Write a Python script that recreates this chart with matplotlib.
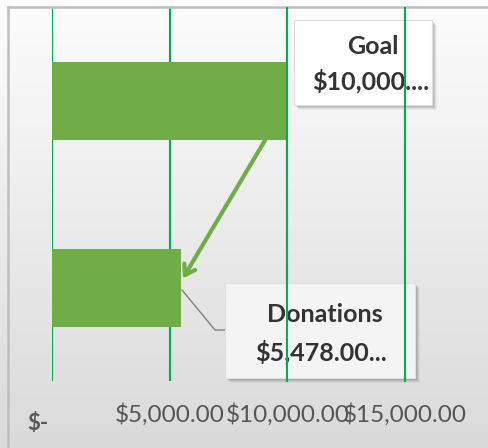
import numpy as np
import matplotlib
matplotlib.use('Agg')
import matplotlib.pyplot as plt
import matplotlib.transforms as mtransforms
from matplotlib.patches import Rectangle
from matplotlib.lines import Line2D

plt.rcParams['font.family'] = ['Lato', 'DejaVu Sans']

categories = ['Donations', 'Goal']
values = [5478, 10000]
label_lines = [['Donations', '$5,478.00...'], ['Goal', '$10,000....']]
tick_values = [0, 5000, 10000, 15000]
tick_labels = ['$-', '$5,000.00', '$10,000.00', '$15,000.00']

W, H = 488, 448
bar_color = '#70AD47'
grid_color = '#00B050'
text_color = '#333333'


def fx(px):
    return px / W


def fy(py):
    return 1 - py / H


fig = plt.figure(figsize=(W / 100, H / 100), dpi=100)

# gradient background
bg = fig.add_axes([0, 0, 1, 1], zorder=0)
grad = np.linspace(0.99, 0.855, 256).reshape(-1, 1)
bg.imshow(np.dstack([grad, grad, grad]), aspect='auto', extent=[0, 1, 0, 1])
bg.set_xlim(0, 1)
bg.set_ylim(0, 1)
bg.axis('off')

# chart area border (left and top)
fig.add_artist(Line2D([fx(8), fx(8)], [0, fy(7)], color='#BFBFBF', lw=1.8))
fig.add_artist(Line2D([fx(8), 1], [fy(7), fy(7)], color='#BFBFBF', lw=1.8))

ax = fig.add_axes([fx(52), fy(381), fx(405) - fx(52), (381 - 8) / H], zorder=1)
ax.patch.set_alpha(0)
ax.set_xlim(0, 15000)
ax.set_ylim(-0.5, 1.5)
for v in tick_values:
    ax.axvline(v, color=grid_color, lw=1.5, zorder=1)
ax.barh(range(len(categories)), values, height=0.42, color=bar_color, zorder=2)
for s in ax.spines.values():
    s.set_visible(False)
ax.set_xticks([])
ax.set_yticks([])

# axis tick labels
tick_tr = mtransforms.blended_transform_factory(ax.transData, fig.transFigure)
for v, t in zip(tick_values, tick_labels):
    if v == 0:
        fig.text(fx(38), fy(423), t, ha='center', va='center', fontsize=16,
                 fontweight='bold', color='#595959')
    else:
        ax.text(v, fy(415), t, ha='center', va='center', fontsize=17.5,
                color='#555555', transform=tick_tr)

# arrow from goal bar to donations bar
ax.annotate('', xy=(5560, 0.05), xytext=(9050, 1 - 0.21),
            arrowprops=dict(arrowstyle='->,head_length=0.7,head_width=0.45',
                            color=bar_color, lw=3, shrinkA=0, shrinkB=0), zorder=3)

# leader line for donations label
fig.add_artist(Line2D([fx(182), fx(215), fx(225)], [fy(290), fy(330), fy(330)],
                      color='#808080', lw=1, zorder=3))

# data label boxes
boxes = [(225, 283, 415, 378), (294, 20, 432, 105)]
box_fill = ['#F4F4F4', '#FFFFFF']
text_pos = [[(325, 314), (321, 352)], [(373, 46), (371, 81)]]
for (x0, y0, x1, y1), lines, pos, fc in zip(boxes, label_lines, text_pos, box_fill):
    for k, a in enumerate([0.10, 0.08, 0.06, 0.04]):
        off = 2 + k
        fig.add_artist(Rectangle((fx(x0 + off), fy(y1 + off)), fx(x1 - x0), (y1 - y0) / H,
                                 facecolor='black', edgecolor='none', alpha=a, zorder=4))
    fig.add_artist(Rectangle((fx(x0), fy(y1)), fx(x1 - x0), (y1 - y0) / H,
                             facecolor=fc, edgecolor='#E0E0E0', lw=0.8, zorder=5))
    for t, (px, py) in zip(lines, pos):
        fig.text(fx(px), fy(py), t, ha='center', va='center', fontsize=18,
                 fontweight='bold', color=text_color, zorder=6)

# gridlines pass over the boxes in the reference
for v in tick_values[2:]:
    xpix = 52 + v / 15000 * (405 - 52)
    fig.add_artist(Line2D([fx(xpix), fx(xpix)], [fy(381), fy(8)], color=grid_color,
                          lw=1.5, zorder=7))

fig.savefig('out.png', dpi=100)
